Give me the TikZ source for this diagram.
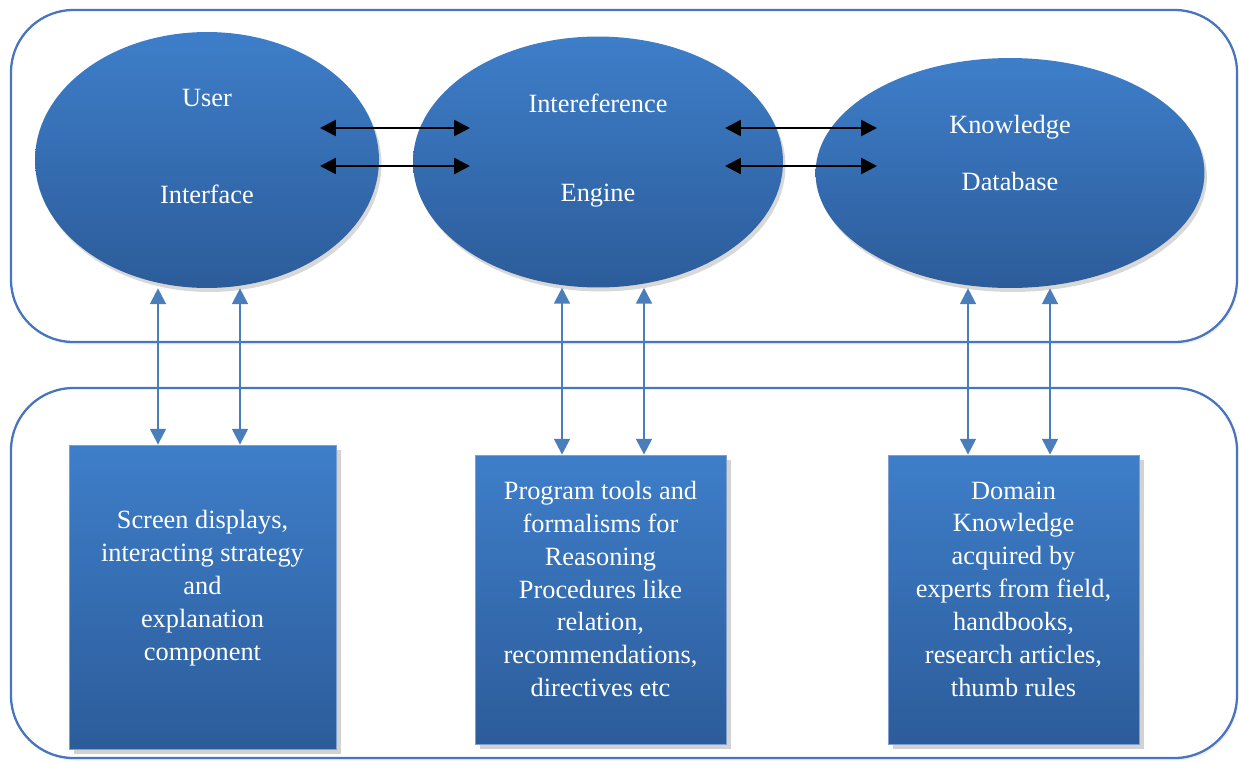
\documentclass[tikz,border=0pt]{standalone}
\usepackage{fontspec}
\setmainfont{Liberation Serif}
\usetikzlibrary{arrows.meta,shadows,shapes.geometric}

\definecolor{framecol}{RGB}{72,117,190}
\definecolor{filltop}{RGB}{62,126,201}
\definecolor{fillbot}{RGB}{44,92,154}
\definecolor{linkcol}{RGB}{74,126,187}

\tikzset{
  container/.style={draw=framecol, fill=white, line width=1.3pt, rounded corners=1.25cm,
    drop shadow={opacity=0.12, shadow xshift=0.03cm, shadow yshift=-0.05cm}},
  bubble/.style={ellipse, draw=none,
    top color=filltop, bottom color=fillbot, inner sep=0pt,
    drop shadow={opacity=0.3, shadow xshift=0.05cm, shadow yshift=-0.08cm}},
  panel/.style={rectangle, draw=framecol!70!white, line width=0.5pt,
    top color=filltop, bottom color=fillbot, inner sep=0pt,
    drop shadow={opacity=0.35, shadow xshift=0.1cm, shadow yshift=-0.1cm}},
  caption/.style={text=white, font=\fontsize{15pt}{18.7pt}\selectfont, align=center},
  flow/.style={{Triangle[length=9pt,width=9pt]}-{Triangle[length=9pt,width=9pt]}, line width=1.5pt, black},
  link/.style={{Triangle[length=9pt,width=9pt]}-{Triangle[length=9pt,width=9pt]}, line width=1.3pt, linkcol}
}

\begin{document}
\begin{tikzpicture}[x=0.02cm,y=-0.02cm]
\useasboundingbox (0,0) rectangle (1239,761);

% the two rounded frames
\draw[container] (11,10) rectangle (1237,342);
\draw[container] (11,388) rectangle (1237,758);

% the three modules
\node[bubble, minimum width=6.88cm, minimum height=5.12cm] (ui) at (207,160) {};
\node[bubble, minimum width=7.4cm, minimum height=5.02cm] (ie) at (598,162) {};
\node[bubble, minimum width=7.78cm, minimum height=4.6cm] (kb) at (1010,173) {};

\node[caption] (uiA) at (207,98) {User};
\node[caption] (uiB) at (207,194) {Interface};
\node[caption] (ieA) at (598,103) {Intereference};
\node[caption] (ieB) at (598,196) {Engine};
\node[caption] (kbA) at (1010,127) {Knowledge};
\node[caption] (kbB) at (1010,181) {Database};

% detail panels
\node[panel, minimum width=5.34cm, minimum height=6.08cm] (p1) at (202.5,597) {};
\node[panel, minimum width=5.02cm, minimum height=5.78cm] (p2) at (600.5,599.5) {};
\node[panel, minimum width=5.02cm, minimum height=5.78cm] (p3) at (1013.5,599.5) {};

\node[caption] (t1) at (202.5,588) {Screen displays,\\interacting strategy\\and\\explanation\\component};
\node[caption] (t2) at (600.5,589) {Program tools and\\formalisms for\\Reasoning\\Procedures like\\relation,\\recommendations,\\directives etc};
\node[caption] (t3) at (1013.5,589) {Domain\\Knowledge\\acquired by\\experts from field,\\handbooks,\\research articles,\\thumb rules};

% horizontal exchange arrows
\coordinate (a1) at (320,128); \coordinate (b1) at (470,128);
\coordinate (a2) at (320,166); \coordinate (b2) at (470,166);
\coordinate (c1) at (725,128); \coordinate (d1) at (877,128);
\coordinate (c2) at (725,166); \coordinate (d2) at (877,166);
\draw[flow] (a1) -- (b1);
\draw[flow] (a2) -- (b2);
\draw[flow] (c1) -- (d1);
\draw[flow] (c2) -- (d2);

% vertical links between modules and panels
\draw[link] (ui.south -| 158,0) -- (p1.north -| 158,0);
\draw[link] (ui.south -| 240,0) -- (p1.north -| 240,0);
\draw[link] (ie.south -| 562,0) -- (p2.north -| 562,0);
\draw[link] (ie.south -| 644,0) -- (p2.north -| 644,0);
\draw[link] (kb.south -| 968,0) -- (p3.north -| 968,0);
\draw[link] (kb.south -| 1050,0) -- (p3.north -| 1050,0);
\end{tikzpicture}
\end{document}
